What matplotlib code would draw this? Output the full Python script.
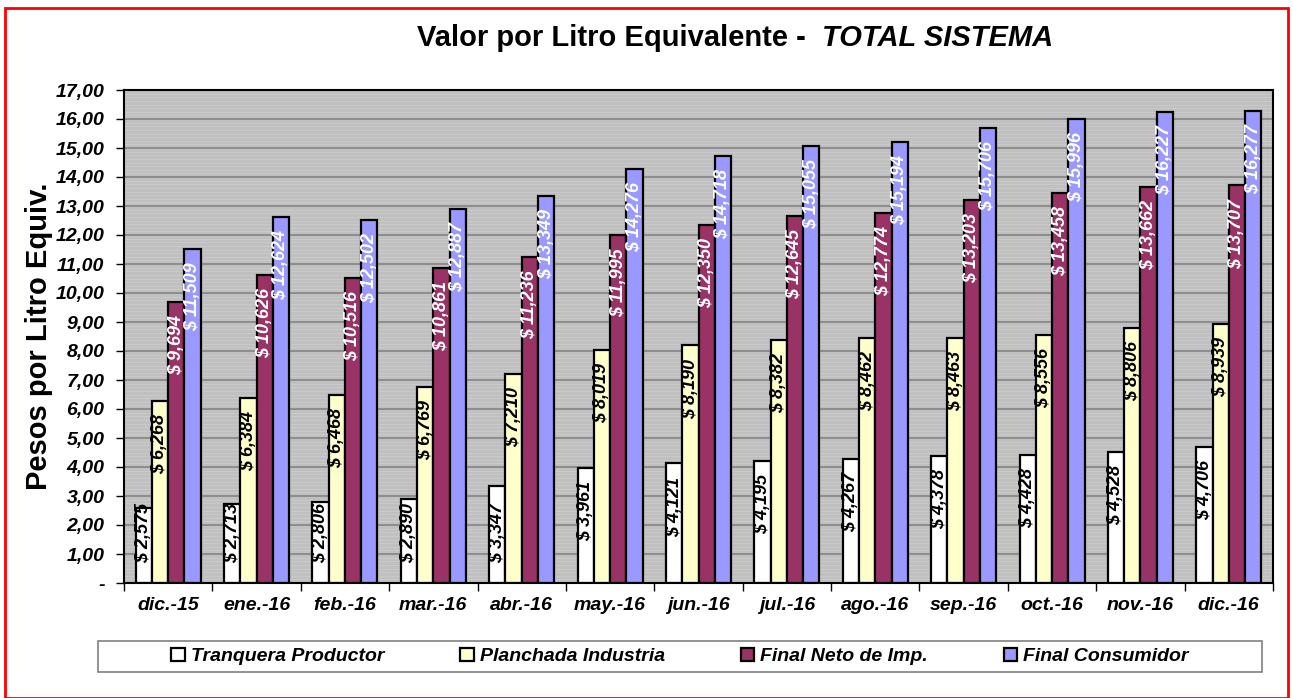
import matplotlib.pyplot as plt
import numpy as np
from matplotlib.patches import Rectangle
from matplotlib.ticker import FixedLocator, MultipleLocator

months = ["dic.-15", "ene.-16", "feb.-16", "mar.-16", "abr.-16", "may.-16",
          "jun.-16", "jul.-16", "ago.-16", "sep.-16", "oct.-16", "nov.-16",
          "dic.-16"]
tranquera = [2.575, 2.713, 2.806, 2.890, 3.347, 3.961, 4.121, 4.195, 4.267,
             4.378, 4.428, 4.528, 4.706]
planchada = [6.268, 6.384, 6.468, 6.769, 7.210, 8.019, 8.190, 8.382, 8.462,
             8.463, 8.556, 8.806, 8.939]
neto = [9.694, 10.626, 10.516, 10.861, 11.236, 11.995, 12.350, 12.645,
        12.774, 13.203, 13.458, 13.662, 13.707]
consumidor = [11.509, 12.624, 12.502, 12.887, 13.349, 14.276, 14.718, 15.055,
              15.194, 15.706, 15.996, 16.227, 16.277]

series = [
    ("Tranquera Productor", tranquera, "#FFFFFF", "black"),
    ("Planchada Industria", planchada, "#FFFFCC", "black"),
    ("Final Neto de Imp.", neto, "#993366", "white"),
    ("Final Consumidor", consumidor, "#9999FF", "white"),
]

FONT = "Liberation Sans"
W, H = 1293, 698

fig = plt.figure(figsize=(W / 100, H / 100), dpi=100)
ax = fig.add_axes([124 / W, 1 - 583 / H, (1273 - 124) / W, (583 - 90) / H])

ax.set_facecolor("#C0C0C0")
ax.set_xlim(-0.5, len(months) - 0.5)
ax.set_ylim(0, 17)

# faint stripes + major grid
ax.yaxis.set_minor_locator(MultipleLocator(0.125))
ax.grid(True, which="minor", axis="y", color="#CBCBCB", lw=0.6, zorder=0)
ax.grid(True, which="major", axis="y", color="#808080", lw=1.1, zorder=0.5)
ax.set_axisbelow(True)

x = np.arange(len(months))
bw = 0.184
for k, (name, vals, color, tcolor) in enumerate(series):
    xs = x + (k - 1.5) * bw
    ax.bar(xs, vals, width=bw, color=color, edgecolor="black", lw=1.6,
           label=name, zorder=2)
    for xi, v in zip(xs, vals):
        lab = f"$ {v:,.3f}".replace(".", ",")
        kw = dict(rotation=90, ha="center", color=tcolor, fontsize=13,
                  fontweight="bold", fontstyle="italic", family=FONT, zorder=3)
        if v < 3.5:
            ax.text(xi, 0.7, lab, va="bottom", **kw)
        else:
            ax.text(xi, v - 0.45, lab, va="top", **kw)

for s in ax.spines.values():
    s.set_color("black")
    s.set_linewidth(1.5)
    s.set_zorder(4)

ax.set_yticks(range(0, 18))
ax.set_yticklabels(["-"] + [f"{i},00" for i in range(1, 18)])
ax.tick_params(axis="y", which="major", length=6, width=1, direction="out",
               pad=8, labelsize=14)
ax.tick_params(axis="y", which="minor", length=0)
ax.set_xticks(x)
ax.set_xticklabels(months)
ax.xaxis.set_minor_locator(FixedLocator(np.arange(-0.5, len(months), 1)))
ax.tick_params(axis="x", which="major", length=0, pad=10, labelsize=14)
ax.tick_params(axis="x", which="minor", length=6, width=1, direction="out")
for lbl in ax.get_xticklabels() + ax.get_yticklabels():
    lbl.set_family(FONT)
    lbl.set_fontweight("bold")
    lbl.set_fontstyle("italic")

ax.set_ylabel("Pesos por Litro Equiv.", fontsize=21, fontweight="bold",
              family=FONT)
ax.yaxis.set_label_coords((53 - 124) / (1273 - 124), 0.5)

fig.text(822 / W, 1 - 38 / H, "Valor por Litro Equivalente -  ", ha="right",
         va="center", fontsize=21, fontweight="bold", family=FONT)
fig.text(822 / W, 1 - 38 / H, "TOTAL SISTEMA", ha="left", va="center",
         fontsize=21, fontweight="bold", fontstyle="italic", family=FONT)

# legend box drawn separately, entries centred inside it
fig.patches.append(Rectangle((98 / W, 1 - 672 / H), (1262 - 98) / W, 31 / H,
                             transform=fig.transFigure, fill=True,
                             facecolor="white", edgecolor="#808080", lw=1.2,
                             zorder=1))
leg = fig.legend(loc="center", bbox_to_anchor=(680 / W, 1 - 656.5 / H),
                 ncol=4, frameon=False, columnspacing=3.9,
                 handlelength=0.7, handleheight=0.7, handletextpad=0.3,
                 borderpad=0, borderaxespad=0,
                 prop={"family": FONT, "weight": "bold", "style": "italic",
                       "size": 14})
leg.set_zorder(2)

fig.patches.append(Rectangle((5 / W, 0.5 / H), (1288 - 5) / W, (689.5) / H,
                             transform=fig.transFigure, fill=False,
                             edgecolor="#FF0000", lw=2))

fig.savefig("out.png", dpi=100)
